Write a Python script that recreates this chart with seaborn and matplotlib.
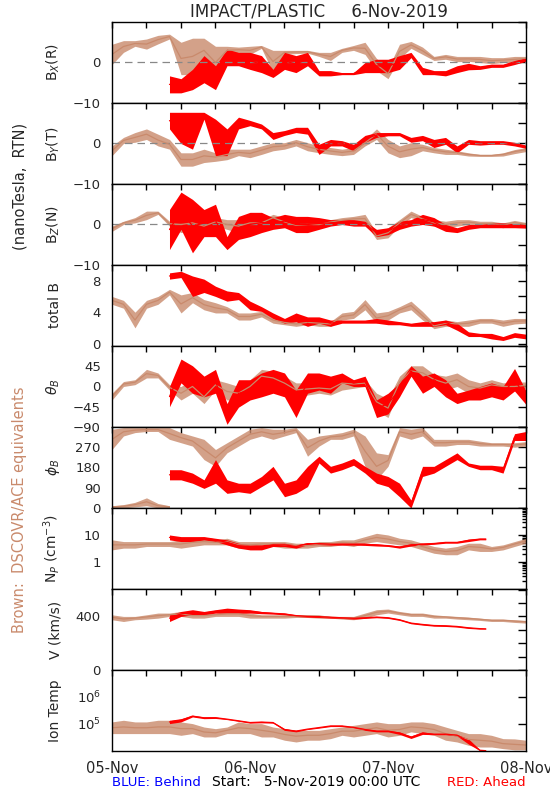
"""
IMPACT/PLASTIC summary plot, 5-Nov-2019 to 8-Nov-2019.
STEREO Ahead (red) against DSCOVR/ACE equivalents (brown), values read off at 2 h steps
as a low/high envelope per time.
"""
import pandas as pd
import matplotlib
matplotlib.use("Agg")
import matplotlib.pyplot as plt
from matplotlib.ticker import MultipleLocator, FixedLocator, FixedFormatter, NullFormatter, LogLocator
import seaborn as sns

sns.set_style("white")
plt.rcParams["font.family"] = ["DejaVu Sans"]

BROWN = "#c98a6c"
RED = "#ff0000"

# ---------------------------------------------------------------
# Data (hours since 5-Nov-2019 00:00 UTC)
# ---------------------------------------------------------------
obs_hours = list(range(0, 73, 2))
sta_hours = list(range(10, 73, 2))
sta_plasma_hours = list(range(10, 65, 2)) + [65]
wrap_hours = [0, 2, 4, 6, 8, 10]

day_ticks = [0, 24, 48, 72]
day_labels = ["05-Nov", "06-Nov", "07-Nov", "08-Nov"]

# Bx (R)
bx_obs_lo = [-0.5, 2.5, 4.0, 3.3, 4.6, 5.8, -3, -3, 0, -4, 2, 2.5, 2, 3.5, -2.5, 2, 2.2, 2.3, 1.5,
             0.5, 2.5, 3, 2, -2, -4, 1, 3.5, 2, 0.5, 0.8, 0.2, 0.3, 0, -0.3, 0, 0, 0.5]
bx_obs_hi = [4.5, 5.4, 5.4, 5.8, 6.7, 7.0, 5, 6, 6, 4, 4, 3.8, 4, 4.2, 3, 3, 3, 3, 2.5,
             2.5, 3.5, 4.2, 5, 1, -1.5, 4.5, 5.2, 3.8, 1.5, 2, 1.5, 1.5, 1.5, 1.2, 1.2, 1.5, 1.5]
bx_sta_lo = [-7.5, -7.5, -6.7, -5, -6.7, -0.8, -0.8, -1.7, -2.5, -3.7, -1.7, -2.5, -0.8, -3.3, -3.3, -3,
             -3, -2.5, -2.5, -2.5, -1.7, 1.2, -3, -3, -3.3, -2.5, -1.8, -1.7, -1.2, -1.2, -0.5, 0.3]
bx_sta_hi = [-3.3, -4, -1.7, 1.7, -0.8, 3.3, 2.5, 2.5, 1.7, -1.7, 2.5, 1.7, 2.5, -2, -2, -2.5,
             -2.5, 0, 0.8, 0.8, 1.7, 2.5, -1.2, -2, -2, -0.8, -0.2, -0.8, -0.4, -0.4, 0.5, 1.2]

# By (T)
by_obs_lo = [-3, 0, 0.3, 1, -0.6, -1.4, -5.6, -5.6, -4.7, -4.4, -4, -3, -3.5, -2.7, -1.8, -1.4, -0.6,
             -1.8, -2.3, -2.7, -3, -2.7, -0.6, 1, -2.3, -3.5, -3, -1.8, -2.3, -2.7, -2.7, -3.1, -3.2,
             -3.2, -3.1, -2.5, -2]
by_obs_hi = [-0.6, 1.5, 2.7, 3.6, 2.3, 1, -2.3, -2.3, -1.4, -2.3, -1.4, -1.4, -1.4, -0.6, 0.2, 0.2, 1,
             0.2, -0.6, -1, -1.4, -1, 1, 3.6, 1, -0.6, 0.2, -0.2, -1, -1.4, -1.8, -2.3, -2.7,
             -2.7, -2.3, -1.5, -1]
by_sta_lo = [3.6, 0, -1.4, 6, -3, -3, 3.6, 4.4, 3.6, 1, 2, 2.7, 2.3, -2.7, -0.6, -0.6,
             -1.8, 0.3, 1.5, 1.9, 1.9, 0.3, 0.7, -1, -0.2, -2.3, -0.2, -0.4, -0.2, -0.2, -0.6, -1.2]
by_sta_hi = [7.7, 7.7, 7.7, 7.7, 6, 3.6, 6.5, 5.7, 4.8, 2.7, 3.2, 4, 4, -0.2, 1, 0.7,
             -0.2, 2, 2.7, 2.7, 2.7, 1.5, 2, 1, 1.5, -0.6, 1, 0.7, 0.7, 0.7, 0.3, -0.4]

# Bz (N)
bz_obs_lo = [-1.7, 0, 0.4, 1.2, 2.5, -0.4, -2, -1.2, -2, -0.4, -1.2, -2, -1.2, -0.4, 0.8, -0.4, -1.2,
             -1.2, -0.8, 0, 0.4, 0.8, 0.4, -3.7, -3.3, -0.4, 1.7, 0.8, -0.4, -0.8, -0.4, 0, -0.4,
             -0.4, -0.8, 0, -0.5]
bz_obs_hi = [-0.4, 0.8, 1.7, 3.3, 3.3, 0.8, 2, 2, 1.2, 1.7, 1.2, 1.2, 2, 1.2, 2.5, 1.7, 0.8,
             1.2, 0.8, 1.2, 1.7, 2, 2.5, -2, -0.8, 1.2, 3.3, 2, 1.2, 0.8, 1.2, 1.2, 0.8,
             0.8, 0.4, 1, 0.5]
bz_sta_lo = [-6.2, -1.2, -7, -3, -3, -6.2, -3.7, -3, -2, -1.2, -0.8, -2, -2, -1.2, -0.4, 0,
             -0.4, -0.4, -3, -2.5, -1.2, -0.4, 0, -0.4, -1.7, -2, -1.2, -0.8, -0.8, -0.8, -0.8, -0.9]
bz_sta_hi = [3.7, 8, 6.2, 3.7, 5, -3, 2, 3, 3, 1.7, 2.5, 2, 2, 1.7, 1.2, 1.2,
             1.2, 0.8, -1.2, -0.8, 0.8, 1.2, 2.5, 1.7, 0, -0.8, 0, 0, 0.4, 0.4, 0.2, 0]

# total B
bt_obs_lo = [5.0, 4.5, 2.0, 4.5, 5.0, 6.2, 3.9, 5.2, 4.3, 3.9, 3.9, 3.0, 3.0, 3.4, 2.6, 2.4, 2.2,
             2.4, 2.2, 2.2, 3.0, 3.2, 4.3, 2.6, 3.0, 3.9, 4.3, 3.0, 1.9, 2.2, 2.2, 2.2, 2.6,
             2.6, 2.2, 2.5, 2.6]
bt_obs_hi = [6.0, 5.5, 4.0, 5.5, 6.0, 6.9, 6.2, 6.5, 5.6, 5.2, 4.7, 3.9, 3.9, 4.1, 3.4, 3.0, 2.8,
             3.0, 3.0, 2.8, 3.9, 4.1, 5.6, 3.9, 4.1, 4.7, 5.4, 4.1, 2.6, 3.0, 2.8, 3.0, 3.2,
             3.2, 3.0, 3.2, 3.2]
bt_sta_lo = [8.2, 8.4, 6.0, 6.5, 6.0, 5.4, 5.6, 4.3, 4.1, 3.2, 2.6, 2.8, 2.2, 2.6, 2.2, 2.6,
             2.6, 2.6, 2.6, 2.4, 2.4, 2.2, 2.2, 2.2, 2.4, 1.7, 0.9, 0.9, 0.6, 0.4, 0.8, 0.6]
bt_sta_hi = [9.0, 9.2, 8.6, 8.2, 7.3, 6.7, 6.5, 5.4, 4.7, 3.9, 3.2, 3.9, 3.4, 3.4, 3.0, 3.0,
             3.0, 3.0, 3.2, 3.0, 2.8, 2.6, 2.8, 2.8, 3.0, 2.6, 1.5, 1.3, 1.3, 0.9, 1.4, 1.2]

# theta_B (deg)
th_obs_lo = [-30, 0, 4, 19, 19, -8, -30, -15, -38, -8, -30, -30, -15, 8, 4, -8, -23, -19, -15, -19,
             -8, -4, 0, -53, -69, -4, 23, 15, 4, -8, 0, -15, -15, -8, -8, -10, -5]
th_obs_hi = [-15, 11, 15, 38, 30, 4, 0, 15, -8, 15, 8, 0, 15, 38, 34, 23, 8, 8, 8, 8,
             23, 15, 15, -15, -27, 23, 46, 46, 27, 23, 30, 15, 8, 15, 8, 10, 10]
th_sta_lo = [-45, 8, -15, -23, -15, -84, -46, -30, -23, -15, -23, -69, -15, -8, -15, 8,
             0, 0, -69, -61, -23, 23, -15, 0, -23, -38, -30, -30, -23, -30, -10, -40]
th_sta_hi = [0, 61, 46, 23, 38, -38, 15, 15, 30, 38, 30, -8, 30, 30, 23, 30,
             15, 23, -30, -15, 8, 46, 23, 30, 15, -15, -8, 0, 8, 0, 40, -10]

# phi_B (deg)
ph_obs_lo = [260, 320, 335, 340, 340, 305, 290, 275, 215, 185, 245, 275, 305, 320, 305, 320, 335,
             230, 275, 305, 305, 320, 185, 125, 185, 320, 305, 320, 275, 275, 282, 282, 275,
             275, 275, 270, 275]
ph_obs_hi = [350, 357, 357, 357, 357, 357, 335, 320, 305, 260, 290, 320, 350, 357, 350, 350, 357,
             305, 320, 327, 335, 350, 320, 245, 237, 357, 350, 357, 305, 305, 305, 305, 297,
             290, 290, 290, 295]
ph_wrap_lo = [0, 0, 5, 10, 0, 0]
ph_wrap_hi = [10, 15, 25, 45, 20, 10]
ph_sta_lo = [125, 125, 110, 87, 110, 65, 72, 65, 95, 125, 50, 65, 95, 200, 155, 170,
             190, 155, 110, 95, 50, 0, 140, 155, 185, 215, 185, 170, 170, 155, 300, 300]
ph_sta_hi = [170, 170, 155, 125, 215, 125, 110, 110, 140, 185, 110, 125, 185, 230, 185, 200,
             220, 185, 155, 140, 110, 35, 185, 185, 215, 245, 200, 190, 190, 185, 330, 340]

# proton density (cm^-3)
np_obs_lo = [2.8, 3.25, 3.25, 3.75, 3.75, 3.75, 3.25, 3.75, 4.3, 4.3, 4.3, 3.25, 3.25, 3.75, 3.75,
             3.25, 3.25, 3.25, 3.75, 3.75, 4.3, 3.75, 4.95, 5.7, 4.95, 4.3, 3.75, 2.8, 2.1, 1.85,
             1.85, 2.8, 2.45, 2.45, 2.8, 3.75, 4.95]
np_obs_hi = [6.6, 5.7, 5.7, 5.7, 5.7, 5.7, 6.6, 7.55, 7.55, 6.6, 7.55, 5.7, 5.7, 5.7, 5.7,
             5.7, 4.95, 4.95, 5.7, 5.7, 6.6, 6.6, 8.7, 11.5, 10, 7.55, 6.6, 4.95, 3.75, 3.25,
             3.75, 4.95, 4.95, 3.75, 4.3, 5.7, 7.55]
np_sta_lo = [6.6, 5.7, 5.7, 6.6, 5.7, 4.3, 3.25, 2.8, 2.8, 3.75, 3.75, 3.25, 4.3, 4.4, 4.2,
             4.2, 4.2, 4.1, 3.9, 3.75, 3.25, 3.9, 4.3, 4.5, 4.95, 4.95, 5.7, 6.6, 6.6]
np_sta_hi = [10, 8.7, 8.7, 8.7, 7.55, 6.6, 4.95, 4.3, 4.3, 4.95, 4.95, 4.3, 5.2, 5.2, 4.95,
             4.95, 4.95, 4.95, 4.7, 4.3, 3.9, 4.7, 4.95, 5.2, 5.7, 5.7, 7.0, 7.55, 7.55]

# bulk speed (km/s)
v_obs_lo = [375, 362, 375, 380, 387, 400, 400, 387, 387, 400, 400, 400, 387, 387, 387, 387, 392,
            392, 387, 387, 380, 375, 387, 412, 425, 412, 400, 400, 387, 387, 380, 375, 370,
            362, 362, 355, 350]
v_obs_hi = [412, 400, 400, 412, 425, 425, 437, 425, 425, 425, 437, 437, 425, 412, 412, 412, 412,
            412, 412, 400, 400, 400, 425, 450, 455, 437, 425, 425, 412, 405, 400, 395, 387,
            380, 380, 375, 370]
v_sta_lo = [362, 400, 412, 412, 425, 425, 425, 425, 420, 417, 412, 400, 395, 392, 387,
            385, 380, 385, 390, 385, 370, 345, 335, 327, 325, 320, 310, 305, 305]
v_sta_hi = [412, 437, 450, 437, 450, 462, 455, 450, 437, 430, 425, 412, 405, 405, 400,
            395, 392, 395, 400, 395, 380, 355, 345, 337, 335, 330, 320, 312, 310]

# ion temperature (K)
t_obs_lo = [44e3, 44e3, 44e3, 44e3, 44e3, 44e3, 38e3, 44e3, 33e3, 33e3, 44e3, 44e3, 44e3, 33e3,
            33e3, 25e3, 21.5e3, 25e3, 25e3, 28.6e3, 38e3, 33e3, 38e3, 44e3, 33e3, 38e3, 51e3,
            44e3, 38e3, 25e3, 21.5e3, 16.2e3, 14e3, 14e3, 12.2e3, 11e3, 11e3]
t_obs_hi = [119e3, 137e3, 119e3, 119e3, 137e3, 137e3, 119e3, 103e3, 77e3, 67e3, 77e3, 119e3,
            103e3, 103e3, 77e3, 67e3, 58e3, 58e3, 58e3, 67e3, 77e3, 89e3, 103e3, 119e3, 103e3,
            103e3, 119e3, 119e3, 103e3, 77e3, 58e3, 44e3, 44e3, 38e3, 28.6e3, 28e3, 25e3]
t_sta_lo = [103e3, 119e3, 182e3, 157e3, 160e3, 145e3, 125e3, 107e3, 110e3, 107e3, 58e3, 51e3,
            62e3, 70e3, 80e3, 80e3, 73e3, 58e3, 51e3, 51e3, 41e3, 29e3, 41e3, 40e3, 40e3, 36e3,
            18e3, 10.2e3, 10e3]
t_sta_hi = [137e3, 157e3, 210e3, 182e3, 182e3, 157e3, 137e3, 119e3, 125e3, 119e3, 67e3, 58e3,
            67e3, 77e3, 89e3, 89e3, 77e3, 67e3, 58e3, 58e3, 51e3, 36e3, 51e3, 44e3, 44e3, 41e3,
            28e3, 11e3, 10.5e3]


def band(ax, hours, lo, hi, color, alpha=1.0):
    # long form: two rows per time, seaborn draws the min-max envelope
    df = pd.DataFrame({"hour": hours + hours, "value": lo + hi})
    sns.lineplot(data=df, x="hour", y="value", estimator="mean", errorbar=("pi", 100),
                 color=color, lw=0.9, err_kws={"alpha": alpha, "linewidth": 0}, ax=ax)


panels = [
    dict(label="B$_X$(R)", ylim=(-10, 10), ticks=[-10, -5, 0, 5, 10],
         ticklabels=["\u221210", "", "0", "", ""], zero=True,
         series=[(obs_hours, bx_obs_lo, bx_obs_hi, BROWN), (sta_hours, bx_sta_lo, bx_sta_hi, RED)]),
    dict(label="B$_Y$(T)", ylim=(-10, 10), ticks=[-10, -5, 0, 5, 10],
         ticklabels=["\u221210", "", "0", "", ""], zero=True,
         series=[(obs_hours, by_obs_lo, by_obs_hi, BROWN), (sta_hours, by_sta_lo, by_sta_hi, RED)]),
    dict(label="B$_Z$(N)", ylim=(-10, 10), ticks=[-10, -5, 0, 5, 10],
         ticklabels=["\u221210", "", "0", "", ""], zero=True,
         series=[(obs_hours, bz_obs_lo, bz_obs_hi, BROWN), (sta_hours, bz_sta_lo, bz_sta_hi, RED)]),
    dict(label="total B", ylim=(-0.3, 10), ticks=[0, 2, 4, 6, 8, 10],
         ticklabels=["0", "", "4", "", "8", ""],
         series=[(obs_hours, bt_obs_lo, bt_obs_hi, BROWN), (sta_hours, bt_sta_lo, bt_sta_hi, RED)]),
    dict(label=r"$\theta_B$", ylim=(-90, 90), ticks=[-90, -45, 0, 45, 90],
         ticklabels=["\u221290", "\u221245", "0", "45", ""],
         series=[(obs_hours, th_obs_lo, th_obs_hi, BROWN), (sta_hours, th_sta_lo, th_sta_hi, RED)]),
    dict(label=r"$\phi_B$", ylim=(0, 360), ticks=[0, 90, 180, 270, 360],
         ticklabels=["0", "90", "180", "270", ""],
         series=[(obs_hours, ph_obs_lo, ph_obs_hi, BROWN), (wrap_hours, ph_wrap_lo, ph_wrap_hi, BROWN),
                 (sta_hours, ph_sta_lo, ph_sta_hi, RED)]),
    dict(label="N$_P$ (cm$^{-3}$)", ylim=(0.1, 100), log=True, ticks=[1, 10], ticklabels=["1", "10"],
         series=[(obs_hours, np_obs_lo, np_obs_hi, BROWN), (sta_plasma_hours, np_sta_lo, np_sta_hi, RED)]),
    dict(label="V (km/s)", ylim=(0, 605), ticks=[0, 100, 200, 300, 400, 500, 600],
         ticklabels=["0", "", "", "", "400", "", ""],
         series=[(obs_hours, v_obs_lo, v_obs_hi, BROWN), (sta_plasma_hours, v_sta_lo, v_sta_hi, RED)]),
    dict(label="Ion Temp", ylim=(1e4, 1e7), log=True, ticks=[1e5, 1e6],
         ticklabels=["10$^5$", "10$^6$"],
         series=[(obs_hours, t_obs_lo, t_obs_hi, BROWN), (sta_plasma_hours, t_sta_lo, t_sta_hi, RED)]),
]

fig, axes = plt.subplots(9, 1, figsize=(5.5, 8), dpi=100, sharex=True)
fig.subplots_adjust(left=0.2036, right=0.9564, top=0.9725, bottom=0.0613, hspace=0)

for ax, p in zip(axes, panels):
    if p.get("log"):
        ax.set_yscale("log")
    for hours, lo, hi, color in p["series"]:
        band(ax, hours, lo, hi, color, alpha=0.8 if color == BROWN else 1.0)
    if p.get("zero"):
        ax.axhline(0, color="#888888", ls=(0, (6, 4)), lw=0.9, zorder=1.5)
    ax.set_ylim(*p["ylim"])
    ax.set_xlim(0, 72)
    ax.yaxis.set_major_locator(FixedLocator(p["ticks"]))
    ax.yaxis.set_major_formatter(FixedFormatter(p["ticklabels"]))
    if p.get("log"):
        ax.yaxis.set_minor_locator(LogLocator(base=10, subs=range(2, 10)))
        ax.yaxis.set_minor_formatter(NullFormatter())
    ax.xaxis.set_major_locator(FixedLocator(day_ticks))
    ax.xaxis.set_minor_locator(MultipleLocator(6))
    ax.tick_params(axis="both", which="both", direction="in", top=True, right=True,
                   labelsize=9.5, width=1, color="black")
    ax.tick_params(axis="y", which="major", length=6, pad=8)
    ax.tick_params(axis="y", which="minor", length=3)
    ax.tick_params(axis="x", which="both", length=4, pad=7)
    ax.set_xlabel("")
    ax.set_ylabel(p["label"], fontsize=10)
    ax.yaxis.set_label_coords(-0.12, 0.5)
    for s in ax.spines.values():
        s.set_color("black")
        s.set_linewidth(1)

axes[-1].xaxis.set_major_formatter(FixedFormatter(day_labels))
axes[-1].tick_params(axis="x", labelsize=10.5)

fig.text(0.58, 0.985, "IMPACT/PLASTIC     6-Nov-2019", ha="center", va="center", fontsize=12)
fig.text(0.037, 0.7675, "(nanoTesla,  RTN)", rotation=90, ha="center", va="center", fontsize=10.5)
fig.text(0.036, 0.363, "Brown:  DSCOVR/ACE equivalents", rotation=90, ha="center", va="center",
         fontsize=10.5, color=BROWN)
fig.text(0.2036, 0.022, "BLUE: Behind", color="blue", ha="left", va="center", fontsize=9.5)
fig.text(0.385, 0.022, "Start:   5-Nov-2019 00:00 UTC", color="black", ha="left", va="center",
         fontsize=10)
fig.text(0.9564, 0.022, "RED: Ahead", color="red", ha="right", va="center", fontsize=9.5)

plt.savefig("out.png", dpi=100)
plt.close()
